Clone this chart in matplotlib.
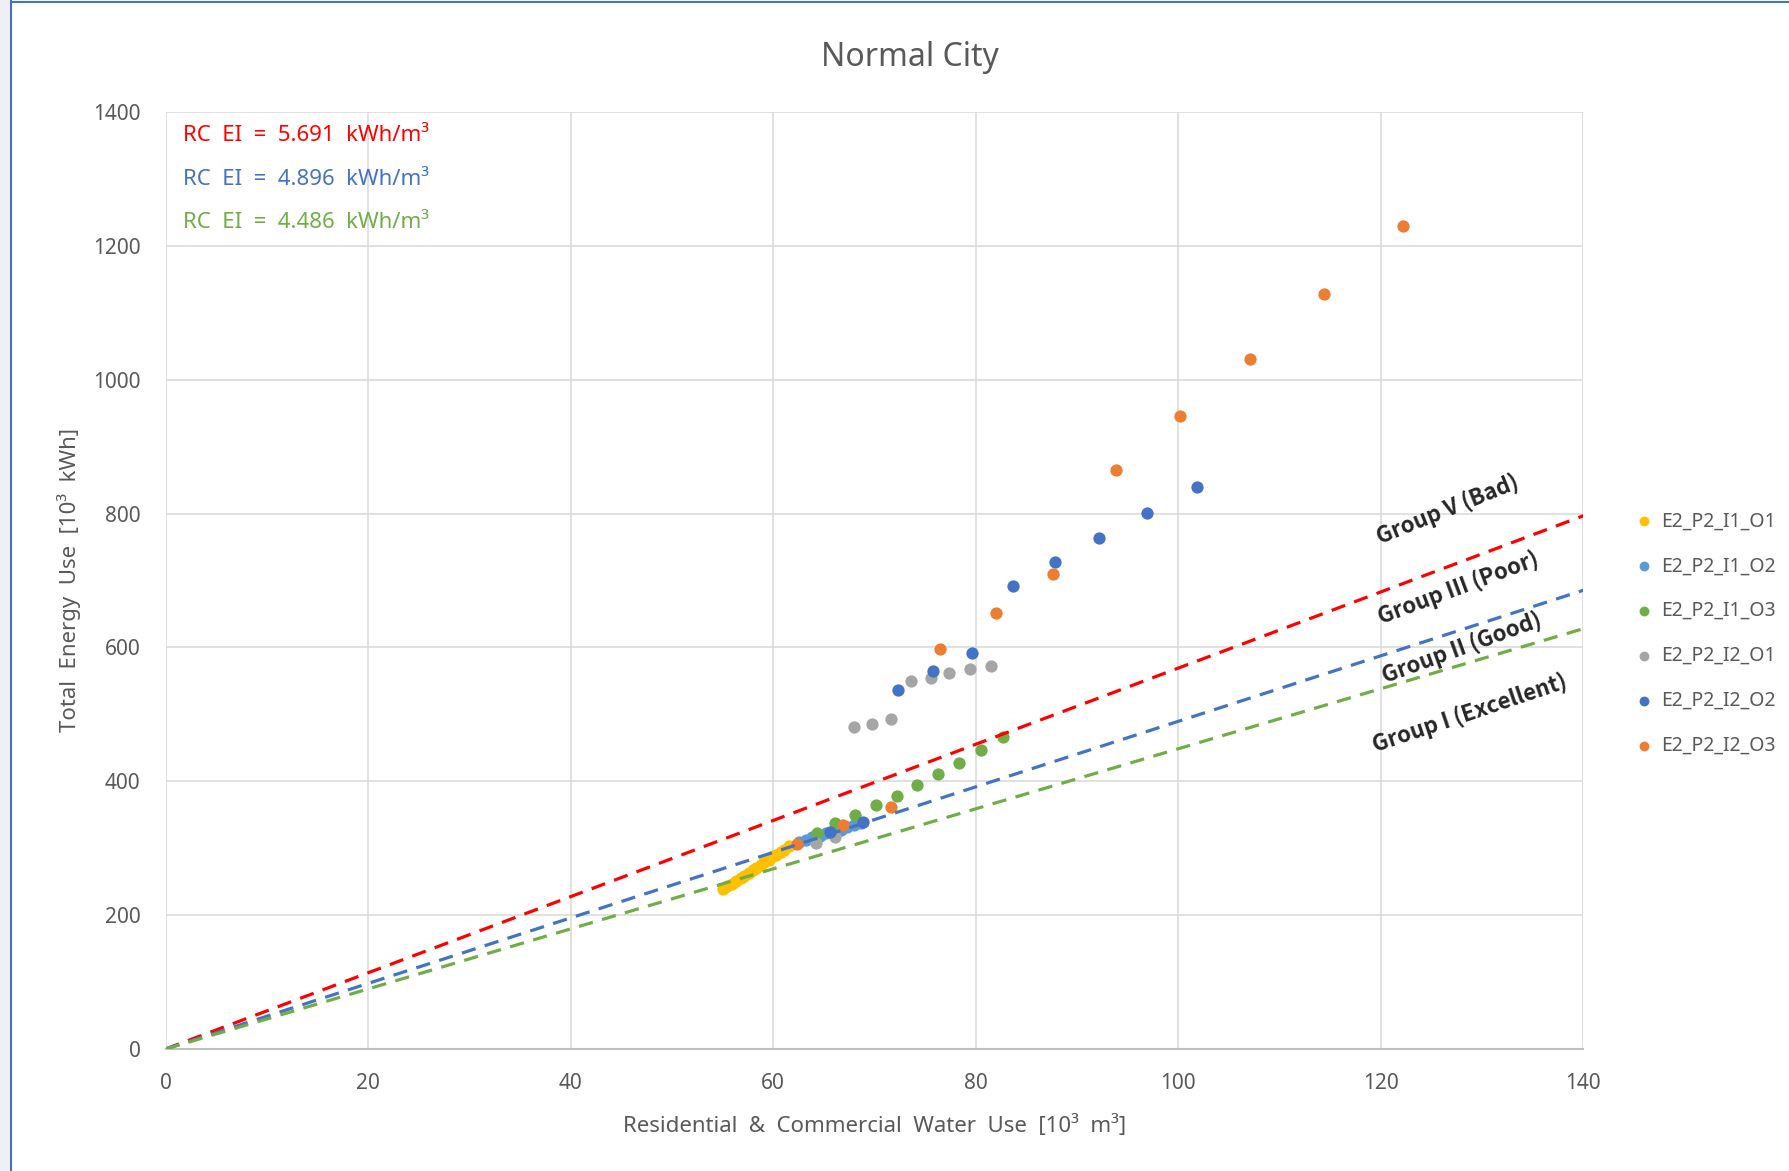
# ============================================================
# NORMAL CITY: ENERGY INTENSITY SCATTER
# Residential & Commercial water use vs total energy use
# ============================================================

# -------------------------------
# 1. IMPORT LIBRARIES
# -------------------------------
import matplotlib.pyplot as plt
from matplotlib.patches import Rectangle
from matplotlib.lines import Line2D


# -------------------------------
# 2. DATA
# -------------------------------
# E2_P2_I1_O1 (yellow, dense band)
i1_o1_x = [55.0, 55.4, 55.9, 56.3, 56.8, 57.1, 57.6, 58.0, 58.3, 58.8,
           59.1, 59.6, 60.0, 60.3, 60.8, 61.1, 61.6]
i1_o1_y = [239, 243, 247, 251, 256, 259, 263, 268, 270, 275,
           279, 283, 288, 290, 295, 298, 303]

# E2_P2_I1_O2 (light blue)
i1_o2_x = [62.5, 63.2, 63.8, 64.6, 65.2, 65.9, 66.7, 67.3, 68.0, 68.7]
i1_o2_y = [309, 312, 316, 318, 322, 325, 327, 331, 334, 337]

# E2_P2_I1_O3 (green)
i1_o3_x = [64.3, 66.1, 68.1, 70.1, 72.2, 74.2, 76.3, 78.3, 80.5, 82.7]
i1_o3_y = [322, 337, 349, 364, 378, 395, 411, 427, 446, 466]

# E2_P2_I2_O1 (gray)
i2_o1_x = [64.2, 66.1, 68.0, 69.8, 71.6, 73.6, 75.6, 77.4, 79.4, 81.5]
i2_o1_y = [308, 316, 481, 486, 493, 550, 555, 561, 567, 572]

# E2_P2_I2_O2 (dark blue)
i2_o2_x = [65.6, 68.9, 72.3, 75.8, 79.6, 83.7, 87.8, 92.2, 96.9, 101.8]
i2_o2_y = [324, 339, 536, 564, 592, 691, 727, 763, 801, 840]

# E2_P2_I2_O3 (orange)
i2_o3_x = [62.3, 66.9, 71.6, 76.5, 82.0, 87.6, 93.8, 100.2, 107.1, 114.4, 122.2]
i2_o3_y = [306, 335, 362, 597, 652, 710, 865, 945, 1031, 1128, 1230]

series_names = ["E2_P2_I1_O1", "E2_P2_I1_O2", "E2_P2_I1_O3",
                "E2_P2_I2_O1", "E2_P2_I2_O2", "E2_P2_I2_O3"]

# Reference energy-intensity lines (kWh/m3), drawn from 0 to 140
ei_values = [5.691, 4.896, 4.486]
ei_line_x = [0, 140]
ei_red_y = [0, 796.7]
ei_blue_y = [0, 685.4]
ei_green_y = [0, 628.0]

group_labels = ["Group V (Bad)", "Group III (Poor)",
                "Group II (Good)", "Group I (Excellent)"]
group_x = [126.6, 127.6, 128.0, 128.8]
group_y = [806, 688, 599, 502]

x_ticks = [0, 20, 40, 60, 80, 100, 120, 140]
y_ticks = [0, 200, 400, 600, 800, 1000, 1200, 1400]


# -------------------------------
# 3. STYLE
# -------------------------------
plt.rcParams["font.family"] = ["Noto Sans", "DejaVu Sans"]
text_gray = "#595959"
grid_gray = "#d9d9d9"

colors = ["#FFC000", "#5B9BD5", "#70AD47", "#A5A5A5", "#4472C4", "#ED7D31"]
line_colors = ["#FF0000", "#4472C4", "#70AD47"]


# -------------------------------
# 4. FIGURE
# -------------------------------
fig = plt.figure(figsize=(17.9, 11.71), dpi=100)
ax = fig.add_axes([0.0925, 0.1042, 0.7921, 0.8002])

# frame decoration like the screenshot
fig.add_artist(Rectangle((0, 0), 10 / 1790, 1, transform=fig.transFigure,
                         color="#eef0f5", zorder=0))
fig.add_artist(Line2D([11 / 1790, 11 / 1790], [0, 1], transform=fig.transFigure,
                      color="#4472C4", lw=1.5))
fig.add_artist(Line2D([11 / 1790, 1], [1 - 2 / 1171, 1 - 2 / 1171],
                      transform=fig.transFigure, color="#4472C4", lw=1.5))

all_x = [i1_o1_x, i1_o2_x, i1_o3_x, i2_o1_x, i2_o2_x, i2_o3_x]
all_y = [i1_o1_y, i1_o2_y, i1_o3_y, i2_o1_y, i2_o2_y, i2_o3_y]

for xs, ys, c, name in zip(all_x, all_y, colors, series_names):
    ax.scatter(xs, ys, s=78, color=c, label=name, zorder=3, linewidths=0)

for ys, c in zip([ei_red_y, ei_blue_y, ei_green_y], line_colors):
    ax.plot(ei_line_x, ys, color=c, lw=2.3, linestyle=(0, (4.5, 3)), zorder=4)

# EI annotations
for i, (val, c) in enumerate(zip(ei_values, line_colors)):
    ax.text(0.012, 0.9745 - i * 0.0463, f"RC  EI  =  {val:.3f}  kWh/m³",
            transform=ax.transAxes, color=c, fontsize=16, va="center", ha="left")

# group labels
group_rot = [22, 20.5, 20, 18.5]
for lbl, gx, gy, r in zip(group_labels, group_x, group_y, group_rot):
    ax.text(gx, gy, lbl, rotation=r, rotation_mode="anchor", ha="center",
            va="center", fontsize=16, fontweight="bold", color="#262626",
            family=["Noto Sans CJK KR", "DejaVu Sans"], zorder=5)


# -------------------------------
# 5. AXES
# -------------------------------
ax.set_xlim(0, 140)
ax.set_ylim(0, 1400)
ax.set_xticks(x_ticks)
ax.set_yticks(y_ticks)
ax.grid(True, color=grid_gray, lw=1.1, zorder=0)
ax.set_axisbelow(True)

for side in ["top", "right", "left"]:
    ax.spines[side].set_visible(False)
ax.spines["bottom"].set_color("#bfbfbf")
ax.spines["bottom"].set_linewidth(1.5)

ax.tick_params(axis="both", length=0, labelsize=15, labelcolor=text_gray)
ax.tick_params(axis="x", pad=17)
ax.tick_params(axis="y", pad=18)

ax.set_xlabel("Residential  &  Commercial  Water  Use  [10³  m³]",
              fontsize=16, color=text_gray)
ax.set_ylabel("Total  Energy  Use  [10³  kWh]", fontsize=16, color=text_gray)
ax.xaxis.set_label_coords(0.5, -0.07)
ax.yaxis.set_label_coords(-0.060, 0.5)

fig.text(0.5084, 1 - 57 / 1171, "Normal City", fontsize=23, color=text_gray,
         ha="center", va="center")

fig.legend(loc="upper left", bbox_to_anchor=(0.9035, 0.570), frameon=False,
           fontsize=14, labelcolor=text_gray, handletextpad=-0.15,
           labelspacing=1.28, markerscale=0.8, borderaxespad=0)

fig.savefig("out.png", dpi=100)
